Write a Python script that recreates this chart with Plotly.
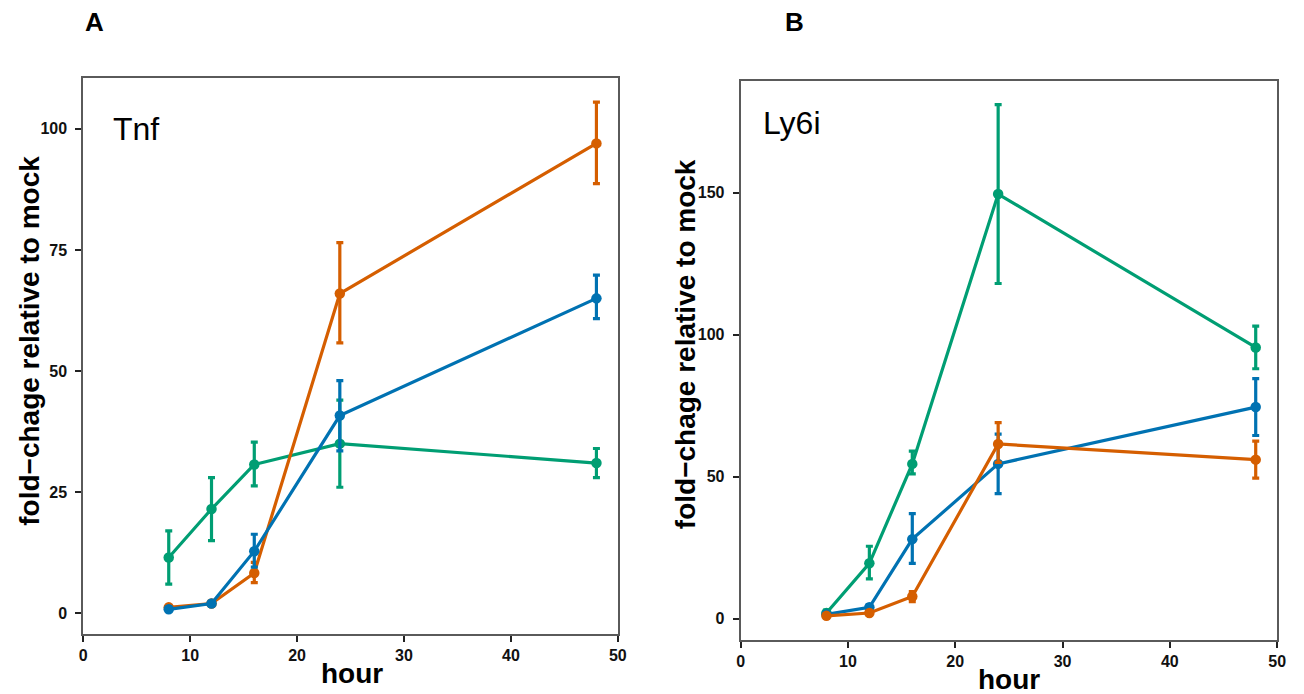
import plotly.graph_objects as go

W, H = 1304, 694

hours = [8, 12, 16, 24, 48]

# Panel A: Tnf
tnf_green = [11.5, 21.5, 30.7, 35.0, 31.0]
tnf_green_lo = [6.0, 15.0, 26.3, 26.0, 28.0]
tnf_green_hi = [17.0, 28.0, 35.3, 44.0, 34.0]
tnf_orange = [1.2, 2.0, 8.3, 66.0, 97.0]
tnf_orange_lo = [0.8, 1.6, 6.3, 55.8, 88.7]
tnf_orange_hi = [1.6, 2.4, 10.5, 76.5, 105.5]
tnf_blue = [0.8, 2.0, 12.8, 40.8, 65.0]
tnf_blue_lo = [0.4, 1.6, 9.5, 33.5, 60.8]
tnf_blue_hi = [1.2, 2.4, 16.3, 48.0, 69.8]

# Panel B: Ly6i
ly_green = [2.0, 19.5, 54.5, 149.5, 95.5]
ly_green_lo = [1.0, 14.0, 51.0, 118.0, 88.0]
ly_green_hi = [3.0, 25.5, 59.0, 181.0, 103.0]
ly_orange = [1.0, 2.0, 7.8, 61.5, 56.0]
ly_orange_lo = [0.5, 1.5, 6.0, 55.0, 49.5]
ly_orange_hi = [1.5, 2.5, 9.5, 69.0, 62.5]
ly_blue = [1.5, 4.0, 28.0, 54.5, 74.5]
ly_blue_lo = [1.0, 3.0, 19.5, 44.0, 64.5]
ly_blue_hi = [2.0, 5.0, 37.0, 65.0, 84.5]

GREEN = "#009E73"
ORANGE = "#D55E00"
BLUE = "#0072B2"

def px(x):
    return x / W

def py(y):
    return 1 - y / H

fig = go.Figure()

def add_series(xa, ya, y, lo, hi, color):
    fig.add_trace(go.Scatter(
        x=hours, y=y, xaxis=xa, yaxis=ya, mode="lines+markers",
        line=dict(color=color, width=3.2),
        marker=dict(color=color, size=10.5),
        error_y=dict(type="data", symmetric=False,
                     array=[h - v for h, v in zip(hi, y)],
                     arrayminus=[v - l for v, l in zip(y, lo)],
                     color=color, thickness=3.2, width=3.5),
        showlegend=False, hoverinfo="x+y",
    ))

add_series("x", "y", tnf_green, tnf_green_lo, tnf_green_hi, GREEN)
add_series("x", "y", tnf_orange, tnf_orange_lo, tnf_orange_hi, ORANGE)
add_series("x", "y", tnf_blue, tnf_blue_lo, tnf_blue_hi, BLUE)
add_series("x2", "y2", ly_green, ly_green_lo, ly_green_hi, GREEN)
add_series("x2", "y2", ly_blue, ly_blue_lo, ly_blue_hi, BLUE)
add_series("x2", "y2", ly_orange, ly_orange_lo, ly_orange_hi, ORANGE)

FONT = "Liberation Sans, Arial, sans-serif"
tickfont = dict(family=FONT, size=16, color="#111", weight="bold")
axis_common = dict(showline=True, mirror=True, linecolor="#5a5a5a", linewidth=1.8,
                   ticks="outside", ticklen=6, tickwidth=2.2, tickcolor="#222",
                   showgrid=False, zeroline=False, tickfont=tickfont)

fig.update_layout(
    width=W, height=H, margin=dict(l=0, r=0, t=0, b=0),
    paper_bgcolor="white", plot_bgcolor="white",
    xaxis=dict(domain=[px(80), px(620)], range=[0, 50], tickvals=[0, 10, 20, 30, 40, 50],
               anchor="y", **axis_common),
    yaxis=dict(domain=[py(634), py(78)], range=[-4.3, 110.5], tickvals=[0, 25, 50, 75, 100],
               anchor="x", ticklabelstandoff=5, **axis_common),
    xaxis2=dict(domain=[px(744), px(1286)], range=[0, 50], tickvals=[0, 10, 20, 30, 40, 50],
                anchor="y2", **axis_common),
    yaxis2=dict(domain=[py(640), py(81)], range=[-7.5, 189.3], tickvals=[0, 50, 100, 150],
                anchor="x2", ticklabelstandoff=5, **axis_common),
)

title_font = dict(family=FONT, size=28, color="black", weight="bold")
label_font = dict(family=FONT, size=26, color="black", weight="bold")
ann = [
    dict(text="A", x=px(91), y=py(22), font=label_font),
    dict(text="B", x=px(798), y=py(22), font=label_font),
    dict(text="fold−chage relative to mock", x=px(25), y=py(341), textangle=-90, font=title_font),
    dict(text="fold−chage relative to mock", x=px(688), y=py(344), textangle=-90, font=title_font),
    dict(text="hour", x=px(352), y=py(673), font=title_font),
    dict(text="hour", x=px(1015), y=py(679), font=title_font),
]
for a in ann:
    fig.add_annotation(xref="paper", yref="paper", showarrow=False,
                       xanchor="center", yanchor="middle", **a)

fig.add_annotation(xref="paper", yref="paper", showarrow=False, xanchor="left", yanchor="middle",
                   x=px(108), y=py(129), text="Tnf",
                   font=dict(family=FONT, size=32, color="black"))
fig.add_annotation(xref="paper", yref="paper", showarrow=False, xanchor="left", yanchor="middle",
                   x=px(765), y=py(123), text="Ly6i",
                   font=dict(family=FONT, size=32, color="black"))

fig.write_html("out.html", config={"displayModeBar": False},
               post_script="document.body.style.margin='0';document.body.style.overflow='hidden';")
